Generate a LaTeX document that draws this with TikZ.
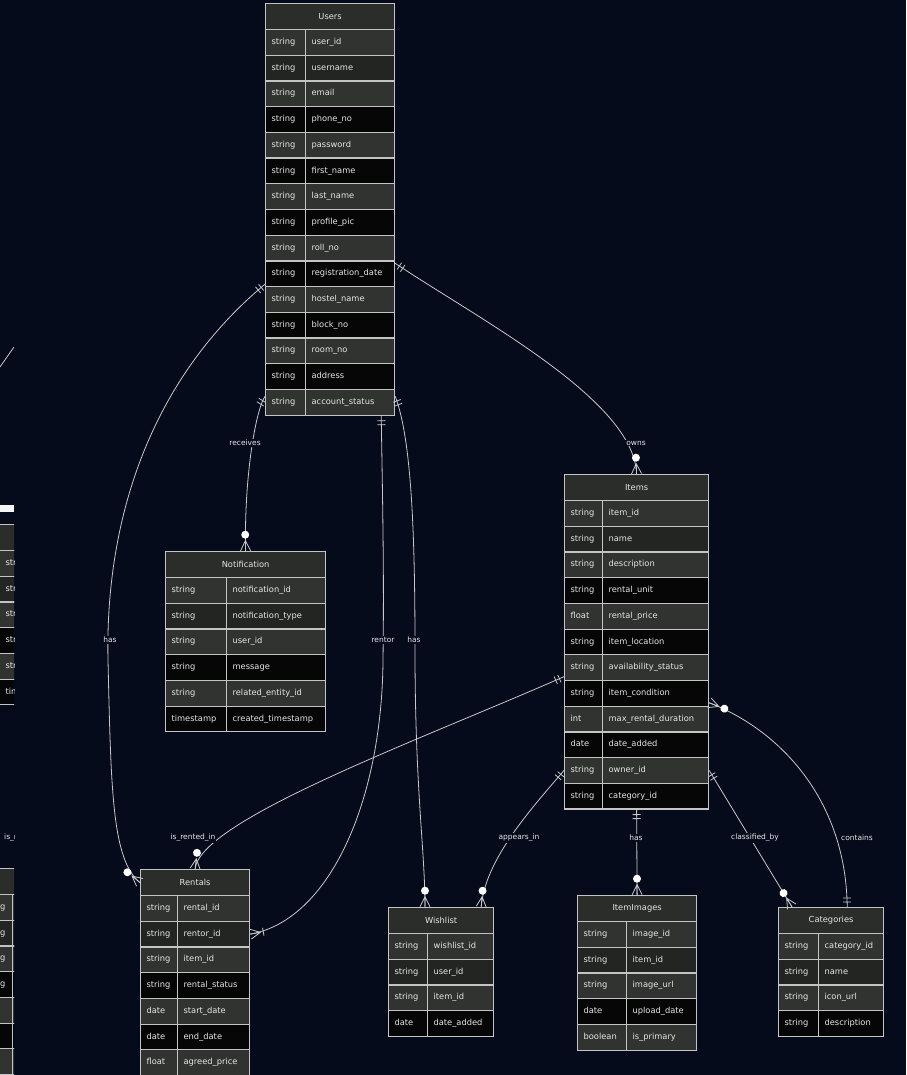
\documentclass[tikz,border=0pt]{standalone}
\usepackage{fontspec}
\setmainfont{DejaVu Sans}
\usetikzlibrary{decorations.markings}

\definecolor{bg}{HTML}{060B1B}
\definecolor{headfill}{HTML}{2A2D29}
\definecolor{rowgray}{HTML}{313331}
\definecolor{rowdim}{HTML}{232523}
\definecolor{rowblack}{HTML}{060606}
\definecolor{edgecol}{HTML}{C4C4C4}
\definecolor{inkcol}{HTML}{E6E6E6}
\definecolor{linkcol}{HTML}{C8C8C8}

\tikzset{
  tabhead/.style={draw=edgecol, line width=1.2pt, fill=headfill, text=inkcol,
    minimum height=26pt, inner sep=0pt, font=\fontsize{8.3}{10}\selectfont},
  tabcell/.style={draw=edgecol, line width=1.2pt, text=inkcol, minimum height=25.7pt,
    inner xsep=6pt, inner ysep=0pt, align=left, text height=6pt, text depth=1.8pt,
    font=\fontsize{8.3}{10}\selectfont},
  relline/.style={draw=linkcol, line width=0.8pt},
  rellabel/.style={fill=bg, text=inkcol, inner sep=1pt, font=\fontsize{7.5}{9}\selectfont},
  onestart/.style={postaction={decorate, decoration={markings,
    mark=at position 0 with {\draw[linkcol, line width=0.8pt] (5pt,-4pt) -- (5pt,4pt) (9pt,-4pt) -- (9pt,4pt);}}}},
  zeromanyend/.style={postaction={decorate, decoration={markings,
    mark=at position -0.3pt with {\draw[linkcol, line width=0.8pt] (0pt,-5pt) -- (-10pt,0pt) -- (0pt,5pt) (-10pt,0pt) -- (0pt,0pt);
      \fill[white] (-16pt,0pt) circle (4pt);}}}},
  onemanyend/.style={postaction={decorate, decoration={markings,
    mark=at position -0.3pt with {\draw[linkcol, line width=0.8pt] (0pt,-5pt) -- (-10pt,0pt) -- (0pt,5pt) (-10pt,0pt) -- (0pt,0pt)
      (-13pt,-4pt) -- (-13pt,4pt);}}}}
}

\newcommand{\ertable}[7]{%
  \pgfmathsetmacro\tw{#5-12}%
  \pgfmathsetmacro\fw{#6-#5-12}%
  \node[tabhead, minimum width=#6pt, anchor=north west] (#1) at (#3,#4) {#2};
  \foreach \ty/\fn [count=\i] in {#7} {
    \ifnum\i=2 \def\sh{rowdim}\else\ifodd\i\relax\def\sh{rowgray}\else\def\sh{rowblack}\fi\fi
    \pgfmathsetmacro\ry{#4+26+(\i-1)*25.7}
    \node[tabcell, fill=\sh, text width=\tw pt, anchor=north west] (#1-t\i) at (#3,\ry) {\ty};
    \node[tabcell, fill=\sh, text width=\fw pt, anchor=north west] (#1-f\i) at (#3+#5,\ry) {\fn};
  }
}

\begin{document}
\begin{tikzpicture}[x=1pt, y=-1pt]
  \fill[bg] (0,0) rectangle (906,1075);
  \useasboundingbox (0,0) rectangle (906,1075);

  \begin{scope}
    \clip (0,0) rectangle (14,1075);
    \coordinate (offa) at (14,347);
    \coordinate (offb) at (0,367);
    \draw[relline] (offa) -- (offb);
    \fill[white!92!gray] (0,505) rectangle (14,512);
    \ertable{lefta}{}{-1}{524}{60}{160}{string/{},string/{},string/{},string/{},string/{},timestamp/{}}
    \node[rellabel, anchor=west] (lbleft) at (3,838) {is\_rented\_in};
    \ertable{leftb}{}{-25}{868}{37}{109}{string/{},string/{},string/{},string/{},date/{},date/{},float/{}}
  \end{scope}

  \ertable{users}{Users}{265}{3}{40}{129}{string/user\_id,string/username,string/email,string/phone\_no,string/password,string/first\_name,string/last\_name,string/profile\_pic,string/roll\_no,string/registration\_date,string/hostel\_name,string/block\_no,string/room\_no,string/address,string/account\_status}
  \ertable{notif}{Notification}{165}{551}{61}{160}{string/notification\_id,string/notification\_type,string/user\_id,string/message,string/related\_entity\_id,timestamp/created\_timestamp}
  \ertable{items}{Items}{564}{474}{38}{144}{string/item\_id,string/name,string/description,string/rental\_unit,float/rental\_price,string/item\_location,string/availability\_status,string/item\_condition,int/max\_rental\_duration,date/date\_added,string/owner\_id,string/category\_id}
  \ertable{rentals}{Rentals}{140}{869}{37}{109}{string/rental\_id,string/rentor\_id,string/item\_id,string/rental\_status,date/start\_date,date/end\_date,float/agreed\_price}
  \ertable{wish}{Wishlist}{388}{907}{39}{105}{string/wishlist\_id,string/user\_id,string/item\_id,date/date\_added}
  \ertable{imgs}{ItemImages}{577}{895}{49}{119}{string/image\_id,string/item\_id,string/image\_url,date/upload\_date,boolean/is\_primary}
  \ertable{cats}{Categories}{778}{907}{40}{105}{string/category\_id,string/name,string/icon\_url,string/description}

  \draw[relline, onestart, zeromanyend] ([yshift=6pt]users-t15.west) .. controls (255,412) and (244,480) .. (notif.north);
  \draw[relline, onestart, zeromanyend] ([yshift=3pt]users-t10.south west) .. controls (150,380) and (105,520) .. (108,660) .. controls (111,790) and (112,860) .. (rentals.west);
  \draw[relline, onestart, onemanyend] ([xshift=-14pt]users-f15.south east) .. controls (383,520) and (384,580) .. (383,660) .. controls (382,800) and (330,920) .. (rentals-f2.east);
  \draw[relline, onestart, zeromanyend] ([yshift=6pt]users-f15.east) .. controls (412,440) and (415,540) .. (415,650) .. controls (415,790) and (425,850) .. ([xshift=37pt]wish.north west);
  \draw[relline, onestart, zeromanyend] ([yshift=-3pt]users-f10.north east) .. controls (480,320) and (634,400) .. (items.north);
  \draw[relline, onestart, zeromanyend] ([yshift=-9pt]items-t7.west) .. controls (420,740) and (200,820) .. (rentals.north);
  \draw[relline, onestart, zeromanyend] (items-t11.west) .. controls (530,810) and (485,860) .. ([xshift=-13pt]wish.north east);
  \draw[relline, onestart, zeromanyend] (items-f12.south -| items.north) -- (imgs.north);
  \draw[relline, onestart, zeromanyend] (items-f11.east) -- ([xshift=14pt]cats.north west);
  \draw[relline, onestart, zeromanyend] ([xshift=-37pt]cats.north east) .. controls (846,800) and (780,730) .. ([yshift=4pt]items-f8.south east);

  \node[rellabel] (lbreceives) at (245,443) {receives};
  \node[rellabel] (lbhasrent) at (110,640) {has};
  \node[rellabel] (lbrentor) at (383,640) {rentor};
  \node[rellabel] (lbhaswish) at (414,640) {has};
  \node[rellabel] (lbowns) at (636,443) {owns};
  \node[rellabel] (lbrented) at (193,838) {is\_rented\_in};
  \node[rellabel] (lbappears) at (519,838) {appears\_in};
  \node[rellabel] (lbhasimg) at (636,838) {has};
  \node[rellabel] (lbclass) at (755,838) {classified\_by};
  \node[rellabel] (lbcontains) at (857,838) {contains};
\end{tikzpicture}
\end{document}
